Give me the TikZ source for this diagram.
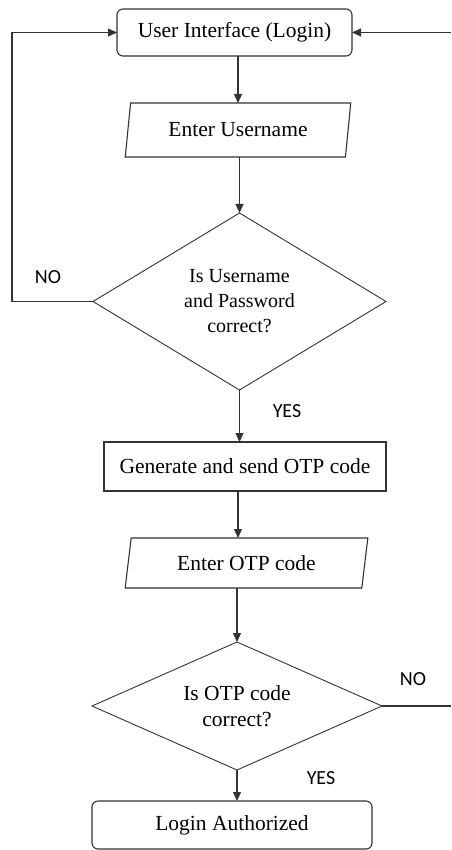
\documentclass[tikz,border=0pt]{standalone}
\usepackage{fontspec}
\setmainfont{Liberation Serif}
\newfontfamily\lblfont{Carlito}
\usetikzlibrary{shapes.geometric,arrows.meta,calc}
\begin{document}
\begin{tikzpicture}[x=1pt,y=-1pt,
  every node/.style={inner sep=0pt, outer sep=0pt},
  ln/.style={draw=black!80, line width=1.1pt},
  arr/.style={ln, -{Triangle[length=9pt,width=8pt]}},
  boxfont/.style={font=\fontsize{21.5}{26}\selectfont},
  termbox/.style={ln, rectangle, rounded corners=6pt, boxfont},
  procbox/.style={ln, rectangle, boxfont},
  iobox/.style={ln, trapezium, trapezium left angle=76.5, trapezium right angle=103.5, trapezium stretches=true, boxfont},
  decbox/.style={ln, diamond, align=center, line width=0.9pt},
  lbl/.style={font=\lblfont\fontsize{20}{24}\selectfont}
]
\useasboundingbox (0,0) rectangle (451,850);
\coordinate (sp) at (238,0);
\coordinate (lx) at (12,0);
\coordinate (rx) at (451,0);

\node[termbox, minimum width=235pt, minimum height=47pt] (ui) at (234.5,32.5) {User Interface (Login)};
\node[iobox, minimum width=226pt, minimum height=54pt] (pu) at (238,130) {Enter Username};
\node[decbox, aspect=1.655, minimum width=293pt, minimum height=177pt, font=\fontsize{20}{25}\selectfont] (d1) at (239.5,301.5) {Is Username\\and Password\\correct?};
\node[procbox, minimum width=282pt, minimum height=49pt] (gen) at (245,466.5) {Generate and send OTP code};
\node[iobox, minimum width=243pt, minimum height=50pt] (po) at (246.5,563) {Enter OTP code};
\node[decbox, aspect=2.27, minimum width=290pt, minimum height=128pt, font=\fontsize{21.5}{26}\selectfont] (d2) at (237,706) {Is OTP code\\correct?};
\node[termbox, minimum width=280pt, minimum height=48pt] (auth) at (232,825) {Login Authorized};

\node[lbl] (no1) at (48,277) {NO};
\node[lbl] (yes1) at (287,411) {YES};
\node[lbl] (no2) at (413,679) {NO};
\node[lbl] (yes2) at (321,778) {YES};

\draw[arr] (ui.south -| sp) -- (pu.north -| sp);
\draw[arr] (pu.south -| d1.north) -- (d1.north);
\draw[arr] (d1.south) -- (gen.north -| d1.south);
\draw[arr] (gen.south -| sp) -- (po.north -| sp);
\draw[arr] (po.south -| d2.north) -- (d2.north);
\draw[arr] (d2.south) -- (auth.north -| d2.south);
\draw[arr] (d1.west) -- (d1.west -| lx) |- (ui.west);
\draw[ln] (d2.east) -- (d2.east -| rx);
\draw[arr] (ui.east -| rx) -- (ui.east);
\end{tikzpicture}
\end{document}
